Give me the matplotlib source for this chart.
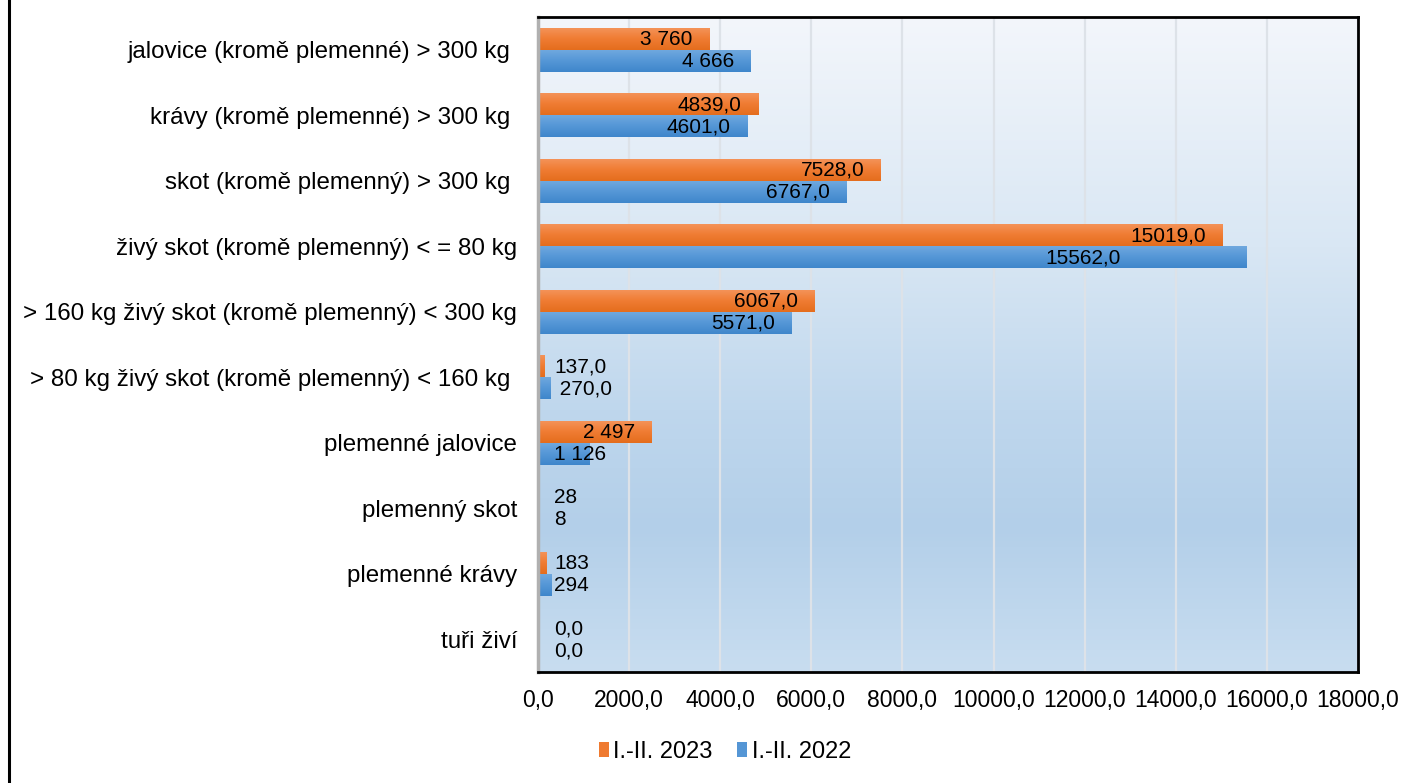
import numpy as np
import matplotlib
matplotlib.use("Agg")
import matplotlib.pyplot as plt
from matplotlib.colors import LinearSegmentedColormap
from matplotlib.patches import Patch
from matplotlib.lines import Line2D
from matplotlib.ticker import FuncFormatter, MultipleLocator

plt.rcParams['font.family'] = ['Liberation Sans', 'DejaVu Sans']

categories = [
    "jalovice (kromě plemenné) > 300 kg ",
    "krávy (kromě plemenné) > 300 kg ",
    "skot (kromě plemenný) > 300 kg ",
    "živý skot (kromě plemenný) < = 80 kg",
    "> 160 kg živý skot (kromě plemenný) < 300 kg",
    "> 80 kg živý skot (kromě plemenný) < 160 kg ",
    "plemenné jalovice",
    "plemenný skot",
    "plemenné krávy",
    "tuři živí",
]
series_names = ["I.-II. 2023", "I.-II. 2022"]
values_2023 = [3760, 4839.0, 7528.0, 15019.0, 6067.0, 137.0, 2497, 28, 183, 0.0]
values_2022 = [4666, 4601.0, 6767.0, 15562.0, 5571.0, 270.0, 1126, 8, 294, 0.0]
labels_2023 = ["3 760", "4839,0", "7528,0", "15019,0", "6067,0", "137,0", "2 497", "28", "183", "0,0"]
labels_2022 = ["4 666", "4601,0", "6767,0", "15562,0", "5571,0", " 270,0", "1 126", "8", "294", "0,0"]

W, H = 1418, 783
fig = plt.figure(figsize=(W / 100, H / 100), dpi=100)
ax = fig.add_axes([538 / W, 1 - 672 / H, (1358 - 538) / W, (672 - 17) / H])

FS_CAT = 17.4
FS_TICK = 16.5
FS_LBL = 15
FS_LEG = 17

# plot-area background gradient (top light -> blue)
bg_cmap = LinearSegmentedColormap.from_list(
    "bg", [(0.0, "#f3f6fb"), (0.35, "#d9e7f4"), (0.6, "#bfd7ed"),
           (0.78, "#b3cfe9"), (1.0, "#c8ddf0")])
grad = np.linspace(0, 1, 256).reshape(-1, 1)
ax.imshow(grad, extent=[0, 1, 0, 1], transform=ax.transAxes, aspect="auto",
          cmap=bg_cmap, zorder=0, origin="upper")

y = np.arange(len(categories))
bh = 0.336
bars23 = ax.barh(y - bh / 2, values_2023, height=bh, color="#ee7a30", zorder=2)
bars22 = ax.barh(y + bh / 2, values_2022, height=bh, color="#5596d5", zorder=2)

orange_cmap = LinearSegmentedColormap.from_list("o", ["#f4955c", "#f07c33", "#e46d1d"])
blue_cmap = LinearSegmentedColormap.from_list("b", ["#72aadf", "#5597d7", "#3f86cb"])

def shade(bars, cmap):
    for p in bars:
        x0, y0 = p.get_x(), p.get_y()
        w, h = p.get_width(), p.get_height()
        if w <= 0:
            continue
        im = ax.imshow(grad, extent=[x0, x0 + w, y0 + h, y0], aspect="auto",
                       cmap=cmap, zorder=2.1, origin="upper")
        im.set_clip_path(p)

shade(bars23, orange_cmap)
shade(bars22, blue_cmap)

# the largest 2022 label sits further left inside its bar in the original
extra_shift = {("2022", 3): -79}

def label(bars, texts, vals, key):
    for i, (p, t, v) in enumerate(zip(bars, texts, vals)):
        yc = p.get_y() + p.get_height() / 2
        if v > 2000:
            dx = -12 + extra_shift.get((key, i), 0)
            ax.annotate(t, (v, yc), xytext=(dx, -0.5), textcoords="offset points",
                        ha="right", va="center", fontsize=FS_LBL, zorder=5)
        else:
            ax.annotate(t, (0, yc), xytext=(11.5, -0.5), textcoords="offset points",
                        ha="left", va="center", fontsize=FS_LBL, zorder=5)

label(bars23, labels_2023, values_2023, "2023")
label(bars22, labels_2022, values_2022, "2022")

ax.set_xlim(0, 18000)
ax.set_ylim(len(categories) - 0.5, -0.5)
ax.set_yticks(y)
ax.set_yticklabels(categories, fontsize=FS_CAT)
ax.xaxis.set_major_locator(MultipleLocator(2000))
ax.xaxis.set_major_formatter(FuncFormatter(lambda v, p: f"{v:.1f}".replace(".", ",")))
ax.tick_params(axis="x", length=0, pad=12, labelsize=FS_TICK)
ax.tick_params(axis="y", length=0, pad=15)
ax.set_axisbelow(True)
ax.grid(axis="x", color="#dde2e8", linewidth=1.6, zorder=0.5)
ax.grid(axis="y", visible=False)

for side in ["top", "right", "bottom"]:
    ax.spines[side].set_color("black")
    ax.spines[side].set_linewidth(2)
ax.spines["left"].set_color("#b0b0b0")
ax.spines["left"].set_linewidth(2.5)
for s in ax.spines.values():
    s.set_zorder(6)

handles = [Patch(facecolor="#ef7a30", edgecolor="none"),
           Patch(facecolor="#5596d5", edgecolor="none")]
fig.legend(handles, series_names, loc="center", bbox_to_anchor=(725 / W, 1 - 752 / H),
           ncol=2, frameon=False, fontsize=FS_LEG, handlelength=0.42, handleheight=0.6,
           handletextpad=0.2, columnspacing=1.05)

fig.add_artist(Line2D([8.5 / W, 8.5 / W], [0, 1], transform=fig.transFigure,
                      color="black", linewidth=2.2))

fig.savefig("out.png", dpi=100)
